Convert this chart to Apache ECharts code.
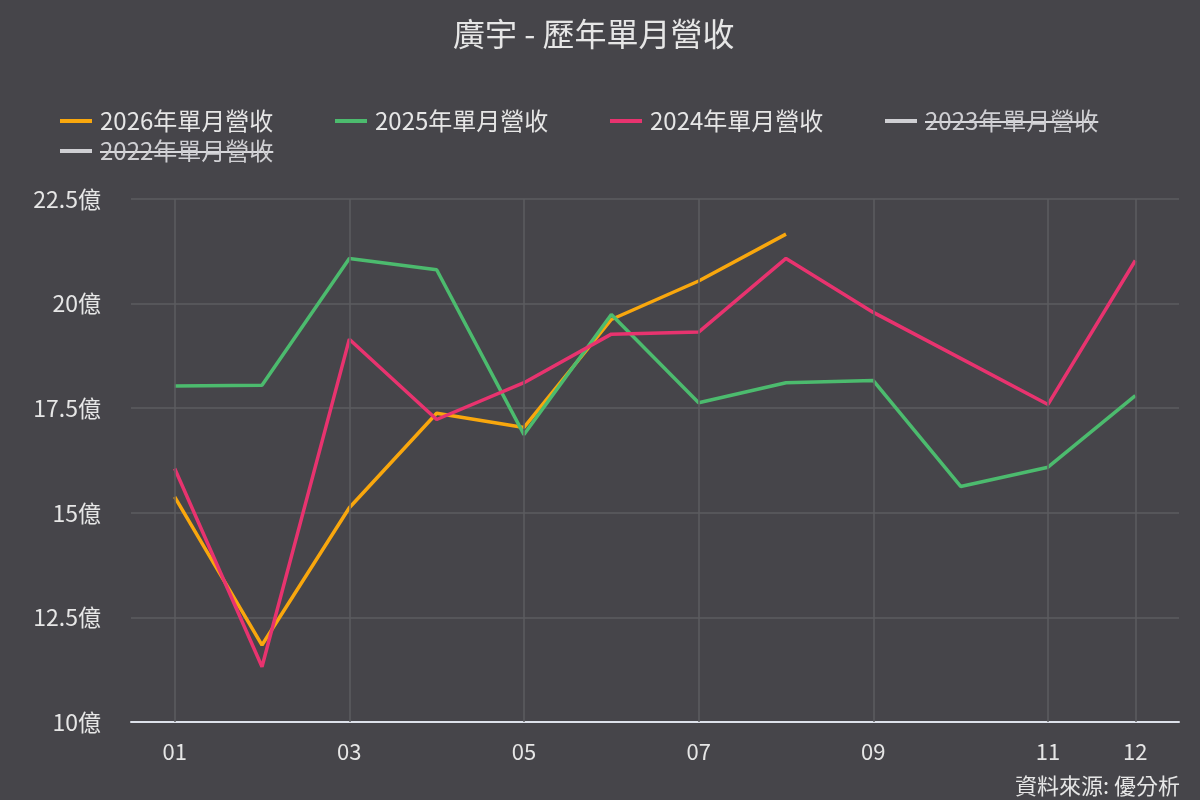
<!DOCTYPE html>
<html>
<head>
<meta charset="utf-8">
<style>
  html, body { margin: 0; padding: 0; background: #46454a; }
  #chart { width: 1200px; height: 800px; }
</style>
<script src="https://cdn.jsdelivr.net/npm/echarts@6/dist/echarts.min.js"></script>
</head>
<body>
<div id="chart"></div>
<script>
  // Monthly revenue, unit: 億 (100M TWD)
  const months = ['01', '02', '03', '04', '05', '06', '07', '08', '09', '10', '11', '12'];
  const rev2026 = [15.38, 11.84, 15.12, 17.38, 17.04, 19.62, 20.54, 21.66];
  const rev2025 = [18.03, 18.05, 21.08, 20.81, 16.87, 19.74, 17.63, 18.11, 18.16, 15.63, 16.09, 17.80];
  const rev2024 = [16.06, 11.32, 19.15, 17.23, 18.11, 19.27, 19.32, 21.08, 19.79, 18.69, 17.59, 21.03];
  // 2023 / 2022 are toggled off in the legend, their lines are not shown
  const rev2023 = [];
  const rev2022 = [];
  const gridMonths = ['01', '03', '05', '07', '09', '11', '12'];
  const yTicks = { min: 10, max: 22.5, step: 2.5 };

  const FONT = '"Noto Sans CJK TC", "Noto Sans", sans-serif';
  const TEXT = '#e6e6e6';
  const GRID = '#5d5c61';
  const LEGEND_FONT = 24;

  const chart = echarts.init(document.getElementById('chart'), null, { renderer: 'canvas' });

  function line(name, data, color) {
    return {
      name, type: 'line', data, z: 3,
      showSymbol: false, smooth: false,
      lineStyle: { width: 3.5, color },
      itemStyle: { color },
    };
  }

  // show 01,03,05,07,09,11 and the last month
  const tickShown = (i) => i % 2 === 0 || i === months.length - 1;

  chart.setOption({
    backgroundColor: '#46454a',
    animation: false,
    textStyle: { fontFamily: FONT },
    title: {
      text: '廣宇 - 歷年單月營收',
      left: 448, top: 13,
      textStyle: { color: TEXT, fontSize: 32, fontWeight: 'normal', fontFamily: FONT },
    },
    legend: {
      left: 55, top: 104, right: 20,
      itemWidth: 32, itemHeight: 4, itemGap: 6,
      icon: 'rect',
      inactiveColor: '#cfcfd3',
      inactiveBorderColor: '#cfcfd3',
      textStyle: {
        color: TEXT, fontSize: LEGEND_FONT, fontFamily: FONT,
        width: 229, lineHeight: 24, padding: [0, 0, 0, 3],
      },
      data: ['2026年單月營收', '2025年單月營收', '2024年單月營收', '2023年單月營收', '2022年單月營收'],
      selected: { '2023年單月營收': false, '2022年單月營收': false },
    },
    grid: { left: 131, right: 21, top: 199, bottom: 78, containLabel: false },
    xAxis: {
      type: 'category',
      data: months,
      boundaryGap: true,
      axisLine: { lineStyle: { color: '#dde1ea', width: 2 } },
      axisTick: { show: false },
      axisLabel: { color: TEXT, fontSize: 22, margin: 19, interval: tickShown, fontFamily: FONT },
      splitLine: { show: false },
    },
    yAxis: {
      type: 'value',
      min: yTicks.min, max: yTicks.max, interval: yTicks.step,
      axisLine: { show: false },
      axisTick: { show: false },
      axisLabel: { color: TEXT, fontSize: 23, margin: 30, formatter: (v) => v + '億', fontFamily: FONT },
      splitLine: { lineStyle: { color: GRID, width: 1.5 } },
    },
    series: [
      line('2026年單月營收', rev2026, '#f9a70d'),
      line('2025年單月營收', rev2025, '#4cbb6e'),
      line('2024年單月營收', rev2024, '#e8336f'),
      line('2023年單月營收', rev2023, '#cfcfd3'),
      line('2022年單月營收', rev2022, '#cfcfd3'),
      {
        // vertical grid lines through the month points
        name: 'grid', type: 'line', data: [], z: 1, silent: true,
        markLine: {
          silent: true, symbol: ['none', 'none'], label: { show: false },
          lineStyle: { color: GRID, width: 1.5, type: 'solid' },
          data: gridMonths.map((m) => ({ xAxis: m })),
        },
      },
    ],
    graphic: [
      {
        id: 'source', type: 'text', right: 20, bottom: 3,
        style: { text: '資料來源: 優分析', fill: TEXT, fontSize: 22, fontFamily: FONT },
      },
    ],
  });

  // strike-through the toggled-off legend labels, placed from the legend's own layout
  function strikeLegend() {
    const ctx = document.createElement('canvas').getContext('2d');
    ctx.font = LEGEND_FONT + 'px ' + FONT;
    const legendModel = chart.getModel().getComponent('legend');
    const view = chart.getViewOfComponentModel(legendModel);
    const strikes = [];
    view.group.traverse((el) => {
      if (el.type === 'text' && el.style && /2023|2022/.test(el.style.text || '')) {
        const r = el.getBoundingRect().clone();
        r.applyTransform(el.getComputedTransform());
        const w = ctx.measureText(el.style.text).width;
        const x0 = r.x + 3;
        const y0 = r.y + r.height / 2 + 1;
        strikes.push({
          id: 'strike' + strikes.length,
          type: 'line', silent: true,
          shape: { x1: x0, y1: y0, x2: x0 + w, y2: y0 },
          style: { stroke: '#d8d8dc', lineWidth: 2 },
        });
      }
    });
    chart.setOption({ graphic: strikes });
  }
  try { strikeLegend(); } catch (e) { console.log(e); }
</script>
</body>
</html>
